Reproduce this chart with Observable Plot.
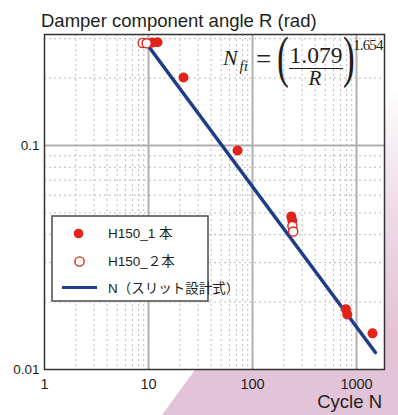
<!DOCTYPE html>
<html>
<head>
<meta charset="utf-8">
<script src="https://cdn.jsdelivr.net/npm/d3@7"></script>
<script src="https://cdn.jsdelivr.net/npm/@observablehq/plot@0.6"></script>
<style>
  html, body { margin: 0; padding: 0; background: #fff; }
  #wrap { position: relative; width: 398px; height: 415px; overflow: hidden; }
  #bg { position: absolute; left: 0; top: 0; width: 398px; height: 415px;
        background: linear-gradient(to bottom, rgba(227,195,216,0) 20%, rgba(227,195,216,0.6) 50%, #e3c3d8 80%);
        clip-path: polygon(162px 415px, 398px 415px, 398px 91px); }
  #chart { position: absolute; left: 0; top: 0; }
  #over { position: absolute; left: 0; top: 0; pointer-events: none; }
</style>
</head>
<body>
<div id="wrap">
  <div id="bg"></div>
  <div id="chart"></div>
  <svg id="over" width="398" height="415" viewBox="0 0 398 415">
    <g font-family="'Liberation Sans', Arial, sans-serif" fill="#231f20">
      <text x="41" y="27" font-size="18.5">Damper component angle R (rad)</text>
      <text x="382" y="408" font-size="18.5" text-anchor="end">Cycle N</text>
    </g>
    <g font-family="'Liberation Serif', 'Times New Roman', serif" fill="#231f20">
      <text x="223" y="65" font-size="22" font-style="italic">N</text>
      <text x="239.5" y="71" font-size="15" font-style="italic">fi</text>
      <text x="256" y="68" font-size="27">=</text>
      <text transform="translate(277,76) scale(0.62,1)" font-size="57">(</text>
      <text x="316" y="63" font-size="23.5" text-anchor="middle">1.079</text>
      <line x1="289" x2="343" y1="68.5" y2="68.5" stroke="#231f20" stroke-width="1.2"/>
      <text x="315" y="85" font-size="21" font-style="italic" text-anchor="middle">R</text>
      <text transform="translate(343,76) scale(0.62,1)" font-size="57">)</text>
      <text x="353" y="50" font-size="15" letter-spacing="-0.8">1.654</text>
    </g>
    <g id="legend"></g>
  </svg>
</div>
<script>
// ---- data ----
const filledN = [10.9, 12.2, 21.7, 71.8, 236, 241, 790, 815, 1425];
const filledR = [0.288, 0.289, 0.201, 0.095, 0.0482, 0.0462, 0.0186, 0.0176, 0.0145];
const openN = [8.8, 9.6, 242, 246];
const openR = [0.287, 0.286, 0.0437, 0.0413];
const lineN = [10.2, 1520];
const lineR = [0.274, 0.0119];
const xTicks = [1, 10, 100, 1000];
const yTicks = [0.01, 0.1];
const legendLabels = ["H150_1 本", "H150_２本", "N（スリット設計式）"];

const RED = "#e2231a", BLUE = "#1d3c8c";

const filled = filledN.map((n, i) => ({N: n, R: filledR[i]}));
const open = openN.map((n, i) => ({N: n, R: openR[i]}));
const lineData = lineN.map((n, i) => ({N: n, R: lineR[i]}));

const minorX = [];
for (const d of [1, 10, 100]) for (let k = 2; k <= 9; k++) minorX.push(d * k);
const minorY = [];
for (const d of [0.01, 0.1]) for (let k = 2; k <= 9; k++) if (d * k <= 0.31) minorY.push(d * k);

const chart = Plot.plot({
  width: 398,
  height: 415,
  marginTop: 34,
  marginRight: 14,
  marginBottom: 46,
  marginLeft: 44,
  style: {background: "transparent", fontFamily: "'Liberation Sans', Arial, sans-serif", color: "#231f20"},
  x: {type: "log", domain: [1, 1858]},
  y: {type: "log", domain: [0.01, 0.313]},
  marks: [
    Plot.frame({fill: "white", stroke: "none"}),
    Plot.ruleX(minorX, {stroke: "#bcbcbc", strokeWidth: 1, strokeDasharray: "2,3"}),
    Plot.ruleY(minorY, {stroke: "#bcbcbc", strokeWidth: 1, strokeDasharray: "2,3"}),
    Plot.ruleX([10, 100, 1000], {stroke: "#b0b0b0", strokeWidth: 2}),
    Plot.ruleY([0.1], {stroke: "#b0b0b0", strokeWidth: 2}),
    Plot.line(lineData, {x: "N", y: "R", stroke: BLUE, strokeWidth: 3.5}),
    Plot.dot(filled, {x: "N", y: "R", r: 5, fill: RED, stroke: "none"}),
    Plot.dot(open, {x: "N", y: "R", r: 4.6, fill: "white", stroke: RED, strokeWidth: 1.4}),
    Plot.frame({stroke: "#333", strokeWidth: 1.5}),
    Plot.axisX({ticks: xTicks, tickSize: 0, tickPadding: 9, tickFormat: d => String(d), label: null}),
    Plot.axisY({ticks: yTicks, tickSize: 0, tickPadding: 5, tickFormat: d => String(d), label: null})
  ]
});
document.getElementById("chart").appendChild(chart);

// axis tick label font
d3.select(chart).selectAll("text").each(function () {
  const g = this.closest("g[aria-label]");
  const lab = g ? g.getAttribute("aria-label") : "";
  const isY = lab.startsWith("y");
  this.style.fontSize = isY ? "13.5px" : "14.5px";
  this.style.fill = "#231f20";
});

// legend
const ns = "http://www.w3.org/2000/svg";
const lg = document.getElementById("legend");
function el(tag, attrs, text) {
  const e = document.createElementNS(ns, tag);
  for (const k in attrs) e.setAttribute(k, attrs[k]);
  if (text) e.textContent = text;
  lg.appendChild(e);
  return e;
}
el("rect", {x: 52, y: 216, width: 156, height: 85, fill: "white", stroke: "#555", "stroke-width": 1.6});
el("circle", {cx: 78.5, cy: 233.5, r: 4.8, fill: RED});
el("circle", {cx: 79.5, cy: 261.5, r: 4.6, fill: "white", stroke: RED, "stroke-width": 1.4});
el("line", {x1: 62, x2: 97, y1: 287.5, y2: 287.5, stroke: BLUE, "stroke-width": 3});
const tf = "'Liberation Sans', 'Noto Sans CJK JP', sans-serif";
el("text", {x: 108, y: 238, "font-size": 13.5, "font-family": tf, fill: "#231f20"}, legendLabels[0]);
el("text", {x: 108, y: 266, "font-size": 13.5, "font-family": tf, fill: "#231f20"}, legendLabels[1]);
el("text", {x: 108, y: 293, "font-size": 13.5, "font-family": tf, fill: "#231f20"}, legendLabels[2]);
</script>
</body>
</html>
